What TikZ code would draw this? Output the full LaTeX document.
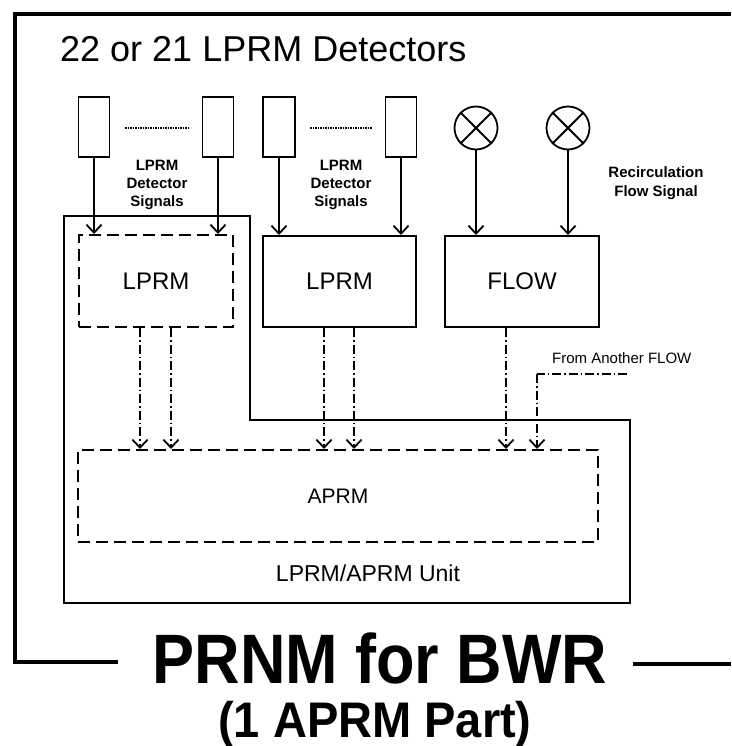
\documentclass[tikz,border=0pt]{standalone}
\usepackage{fontspec}
\usepackage{graphicx}
\setmainfont{Liberation Sans}
\usetikzlibrary{arrows.meta}
\newcommand{\fsz}[1]{\fontsize{#1}{#1}\selectfont}
\tikzset{
  solidbox/.style={draw, line width=2pt, inner sep=0pt, minimum width=#1},
  dashbox/.style={draw, line width=2pt, inner sep=0pt, dash pattern=on 12pt off 6pt, minimum width=#1},
  detrect/.style={draw, line width=1.8pt, minimum width=31pt, minimum height=60pt, inner sep=0pt},
  flowsensor/.style={draw, circle, line width=1.8pt, minimum size=43pt, inner sep=0pt},
  sig/.style={line width=1.6pt, -{Straight Barb[length=8pt,width=15pt,line width=1.8pt]}},
  dda/.style={line width=1.7pt, dash pattern=on 9pt off 3pt on 1.5pt off 3pt, -{Straight Barb[length=8pt,width=15pt,line width=1.8pt]}},
  dd/.style={line width=1.4pt, dash pattern=on 9pt off 3pt on 1.5pt off 3pt},
  dots/.style={line width=1.3pt, dash pattern=on 1.5pt off 1pt},
  frame/.style={line width=4pt},
  lbl/.style={font=\bfseries\fsz{15}, align=center, inner sep=0pt},
  boxtxt/.style={font=\fsz{24}}
}
\begin{document}
\begin{tikzpicture}[x=1pt,y=-1pt]
\useasboundingbox (0,0) rectangle (731,746);
% outer frame
\coordinate (fA) at (118,662);
\coordinate (fB) at (15,662);
\coordinate (fC) at (15,14);
\coordinate (fD) at (731,14);
\coordinate (fE) at (633,664);
\coordinate (fF) at (731,664);
\draw[frame] (fA) -- (fB) -- (fC) -- (fD);
\draw[frame] (fE) -- (fF);
\node[anchor=base west, inner sep=0pt, font=\fsz{36}] (title) at (60,62) {22 or 21 LPRM Detectors};

% detectors
\node[detrect] (d1) at (94,127) {};
\node[detrect] (d2) at (218,127) {};
\node[detrect, minimum width=32pt] (d3) at (279,127) {};
\node[detrect] (d4) at (401,127) {};
\coordinate (q1) at (125,128);
\coordinate (q2) at (189,128);
\coordinate (q3) at (310,128);
\coordinate (q4) at (372,128);
\draw[dots] (q1) -- (q2);
\draw[dots] (q3) -- (q4);
\node[flowsensor] (c1) at (476,128) {};
\node[flowsensor] (c2) at (568,128) {};
\draw[line width=1.8pt] (c1.north west) -- (c1.south east) (c1.north east) -- (c1.south west);
\draw[line width=1.8pt] (c2.north west) -- (c2.south east) (c2.north east) -- (c2.south west);

% labels
\node[lbl] (t1) at (157,185) {LPRM\\[3pt]Detector\\[3pt]Signals};
\node[lbl] (t2) at (341,185) {LPRM\\[3pt]Detector\\[3pt]Signals};
\node[lbl] (t3) at (656,183) {Recirculation\\[4pt]Flow Signal};

% unit
\draw[line width=2pt] (64,216) -- (250,216) -- (250,420) -- (630,420) -- (630,603) -- (64,603) -- cycle;
\node[dashbox=154pt, minimum height=92pt, boxtxt] (lprmA) at (156,281) {LPRM};
\node[solidbox=153pt, minimum height=91pt, boxtxt] (lprmB) at (339.5,281.5) {LPRM};
\node[solidbox=154pt, minimum height=91pt, boxtxt] (flow) at (522,281.5) {FLOW};
\node[dashbox=520pt, minimum height=92pt, font=\fsz{21}] (aprm) at (338,496) {APRM};
\node[font=\fsz{23}, inner sep=0pt] (unit) at (368,573) {LPRM/APRM Unit};

% detector signals
\draw[sig] (d1.south) -- (d1.south |- lprmA.north);
\draw[sig] (d2.south) -- (d2.south |- lprmA.north);
\draw[sig] (d3.south) -- (d3.south |- lprmB.north);
\draw[sig] (d4.south) -- (d4.south |- lprmB.north);
\draw[sig] (c1.south) -- (c1.south |- flow.north);
\draw[sig] (c2.south) -- (c2.south |- flow.north);

% to APRM
\draw[dda] ([xshift=-16pt]lprmA.south) coordinate (s1) -- (s1 |- aprm.north);
\draw[dda] ([xshift=15pt]lprmA.south) coordinate (s2) -- (s2 |- aprm.north);
\draw[dda] ([xshift=-15.5pt]lprmB.south) coordinate (s3) -- (s3 |- aprm.north);
\draw[dda] ([xshift=14.5pt]lprmB.south) coordinate (s4) -- (s4 |- aprm.north);
\draw[dda] ([xshift=-16pt]flow.south) coordinate (s5) -- (s5 |- aprm.north);
\coordinate (af) at (627,374);
\coordinate (s6) at (537,374);
\draw[dd] (af) -- (s6);
\draw[dda] (s6) -- (s6 |- aprm.north);
\node[anchor=west, font=\fsz{15}, inner sep=0pt] (another) at (552,358) {From Another FLOW};

% bottom title
\node[anchor=base, inner sep=0pt, font=\bfseries\fsz{70}] (main) at (380,683) {\scalebox{0.9}[1]{PRNM for BWR}};
\node[anchor=base, inner sep=0pt, font=\bfseries\fsz{50}] (sub) at (375,737) {\scalebox{0.94}[1]{(1 APRM Part)}};
\end{tikzpicture}
\end{document}
